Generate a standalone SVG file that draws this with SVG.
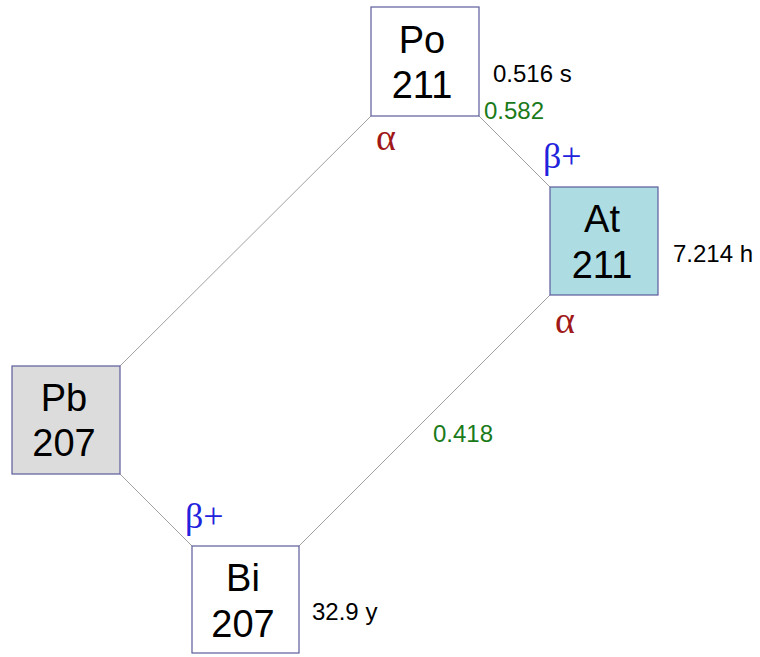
<svg xmlns="http://www.w3.org/2000/svg" width="760" height="657" viewBox="0 0 760 657">
  <style>
    .box { stroke: #5c5c9c; stroke-width: 1.2; }
    .sym { font-family: "Liberation Sans", Arial, sans-serif; font-size: 38px; fill: #000; text-anchor: middle; }
    .hl { font-family: "Liberation Sans", Arial, sans-serif; font-size: 24px; fill: #000; }
    .br { font-family: "Liberation Sans", Arial, sans-serif; font-size: 24px; fill: #1a7a1a; }
    .alpha { font-family: "Liberation Serif", "Times New Roman", serif; font-size: 38px; fill: #a01818; }
    .beta { font-family: "Liberation Serif", "Times New Roman", serif; font-size: 36px; fill: #2222dd; }
    .link { stroke: #a0a0a0; stroke-width: 1; fill: none; }
  </style>
  <rect width="760" height="657" fill="#fff"/>

  <g id="connectors">
    <line class="link" x1="371" y1="116" x2="120" y2="366"/>
    <line class="link" x1="479" y1="116" x2="550" y2="187"/>
    <line class="link" x1="550" y1="295" x2="299" y2="546"/>
    <line class="link" x1="120" y1="474" x2="192" y2="546"/>
  </g>

  <g id="po211">
    <rect class="box" x="371" y="7" width="108" height="109" fill="#ffffff"/>
    <text class="sym" x="422" y="53">Po</text>
    <text class="sym" x="422" y="98">211</text>
    <text class="hl" x="493" y="82">0.516 s</text>
  </g>

  <g id="at211">
    <rect class="box" x="550" y="187" width="108" height="108" fill="#addde3"/>
    <text class="sym" x="602" y="232">At</text>
    <text class="sym" x="602" y="278">211</text>
    <text class="hl" x="673" y="262">7.214 h</text>
  </g>

  <g id="pb207">
    <rect class="box" x="12" y="366" width="108" height="108" fill="#dcdcdc"/>
    <text class="sym" x="64" y="411">Pb</text>
    <text class="sym" x="64" y="456">207</text>
  </g>

  <g id="bi207">
    <rect class="box" x="192" y="546" width="107" height="107" fill="#ffffff"/>
    <text class="sym" x="243" y="591">Bi</text>
    <text class="sym" x="243" y="637">207</text>
    <text class="hl" x="312" y="620">32.9 y</text>
  </g>

  <g id="labels">
    <text class="alpha" x="376" y="150">α</text>
    <text class="beta" x="543" y="168">β+</text>
    <text class="alpha" x="555" y="333">α</text>
    <text class="beta" x="185" y="528">β+</text>
    <text class="br" x="484" y="119">0.582</text>
    <text class="br" x="433" y="442">0.418</text>
  </g>
</svg>
